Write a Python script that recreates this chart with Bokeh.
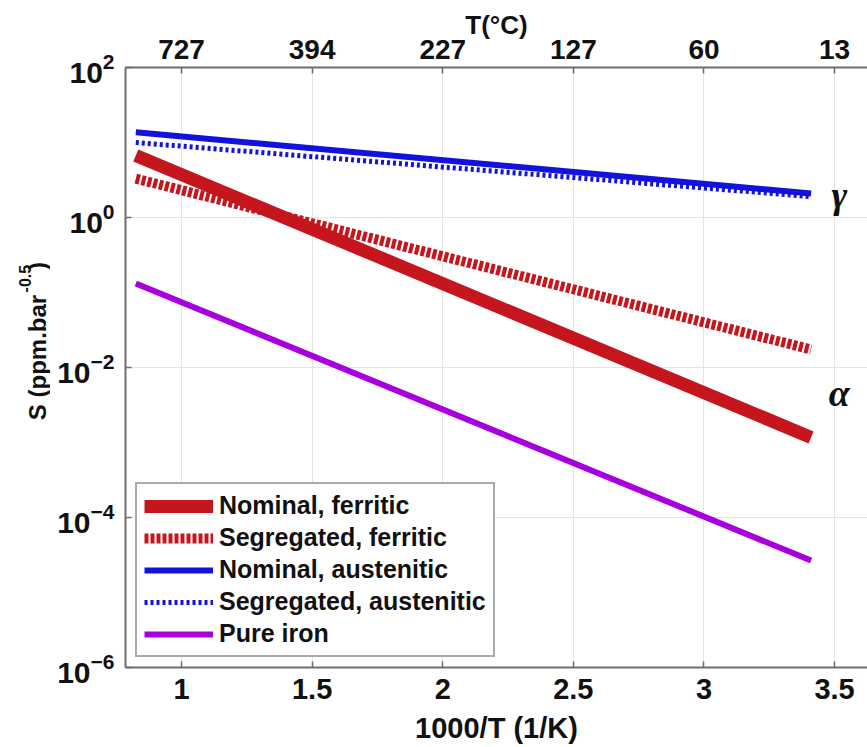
import math

from bokeh.core.properties import value
from bokeh.embed import file_html
from bokeh.layouts import row
from bokeh.models import FixedTicker, Label, Legend, LegendItem, LinearAxis, Range1d
from bokeh.plotting import figure
from bokeh.resources import INLINE

# Sievert solubility vs inverse temperature (end points of each Arrhenius line)
inv_t = [0.825, 3.41]                      # 1000/T (1/K)
nominal_ferritic = [6.7, 1.17e-3]
segregated_ferritic = [3.3, 1.74e-2]
nominal_austenitic = [13.7, 2.09]
segregated_austenitic = [10.0, 1.9]
pure_iron = [0.132, 2.67e-5]

series_names = [
    "Nominal, ferritic",
    "Segregated, ferritic",
    "Nominal, austenitic",
    "Segregated, austenitic",
    "Pure iron",
]

x_ticks = [1, 1.5, 2, 2.5, 3, 3.5]
t_celsius_labels = ["727", "394", "227", "127", "60", "13"]
y_ticks = [1e-6, 1e-4, 1e-2, 1, 1e2]

X_START, X_END = 0.7856, 3.626
Y_START, Y_END = 1e-6, 1e2

FONT = "Liberation Sans"
RED = "#c4161c"
BLUE = "#1212dc"
PURPLE = "#a800dc"
AXIS_GREY = "#6e6e6e"
GRID_GREY = "#e4e4e4"
INK = "#111111"

W, H = 867, 747
TITLE_W = 50                     # strip holding the vertical y-axis title
LEFT, TOP, BOTTOM = 125, 67, 80  # frame offsets within the whole page

p = figure(
    width=W - TITLE_W, height=H,
    y_axis_type="log",
    x_range=Range1d(X_START, X_END),
    y_range=Range1d(Y_START, Y_END),
    output_backend="svg",
    toolbar_location=None,
    min_border_left=LEFT - TITLE_W, min_border_right=0,
    min_border_top=TOP, min_border_bottom=BOTTOM,
    background_fill_color="white",
    border_fill_color="white",
)
p.outline_line_color = None

# grid
p.xgrid.grid_line_color = GRID_GREY
p.ygrid.grid_line_color = GRID_GREY
p.xgrid.grid_line_width = 1
p.ygrid.grid_line_width = 1


def style_axis(ax, size):
    ax.axis_line_color = AXIS_GREY
    ax.axis_line_width = 2
    ax.major_tick_in = 6
    ax.major_tick_out = 0
    ax.major_tick_line_color = AXIS_GREY
    ax.major_tick_line_width = 1.5
    ax.minor_tick_line_color = None
    ax.major_label_text_font = FONT
    ax.major_label_text_font_style = "bold"
    ax.major_label_text_font_size = size
    ax.major_label_text_color = INK


# bottom axis
xa = p.xaxis[0]
xa.ticker = FixedTicker(ticks=x_ticks)
style_axis(xa, "29px")
xa.major_label_standoff = 11
xa.axis_label = "1000/T (1/K)"
xa.axis_label_text_font = FONT
xa.axis_label_text_font_style = "bold"
xa.axis_label_text_font_size = "29px"
xa.axis_label_text_color = INK
xa.axis_label_standoff = 10

# left axis
ya = p.yaxis[0]
ya.ticker = FixedTicker(ticks=y_ticks)
style_axis(ya, "30px")
ya.major_label_standoff = 11

# top axis in degrees Celsius
top = LinearAxis(
    ticker=FixedTicker(ticks=x_ticks),
    major_label_overrides={float(k): v for k, v in zip(x_ticks, t_celsius_labels)},
    axis_label="T(°C)",
)
style_axis(top, "28px")
top.major_label_standoff = 9
top.axis_label_text_font = FONT
top.axis_label_text_font_style = "bold"
top.axis_label_text_font_size = "26px"
top.axis_label_text_color = INK
top.axis_label_standoff = -3
p.add_layout(top, "above")

# data lines
r_nf = p.line(inv_t, nominal_ferritic, line_color=RED, line_width=13)
r_sf = p.line(inv_t, segregated_ferritic, line_color=RED, line_width=10, line_dash="4 2")
r_na = p.line(inv_t, nominal_austenitic, line_color=BLUE, line_width=6)
r_sa = p.line(inv_t, segregated_austenitic, line_color=BLUE, line_width=5, line_dash="3 3")
r_pi = p.line(inv_t, pure_iron, line_color=PURPLE, line_width=6)

legend = Legend(
    items=[LegendItem(label=n, renderers=[r]) for n, r in
           zip(series_names, [r_nf, r_sf, r_na, r_sa, r_pi])],
    location="bottom_left",
    margin=10,
    padding=7,
    spacing=3,
    glyph_width=69,
    glyph_height=26,
    label_height=26,
    label_standoff=6,
    label_text_font=FONT,
    label_text_font_style="bold",
    label_text_font_size="25px",
    label_text_color=INK,
    border_line_color="#555555",
    border_line_width=2,
    background_fill_color="white",
    background_fill_alpha=1.0,
)
p.add_layout(legend)

# phase markers at the right end of each pair of lines
greek_x = inv_t[-1] + 0.108
greek_kw = dict(text_align="center", text_baseline="middle",
                text_font="Liberation Serif", text_font_style="bold italic",
                text_font_size="38px", text_color=INK)
p.add_layout(Label(
    x=greek_x, y=math.sqrt(nominal_austenitic[-1] * segregated_austenitic[-1]),
    text="γ", **greek_kw))
p.add_layout(Label(
    x=greek_x, y=math.sqrt(nominal_ferritic[-1] * segregated_ferritic[-1]),
    text="α", **greek_kw))

# narrow strip on the left carrying the rotated y-axis title "S (ppm.bar^-0.5)"
t = figure(
    width=TITLE_W, height=H,
    x_range=Range1d(0, TITLE_W), y_range=Range1d(H, 0),
    x_axis_location=None, y_axis_location=None,
    output_backend="svg", toolbar_location=None,
    min_border=0, min_border_left=0, min_border_right=0,
    min_border_top=0, min_border_bottom=0,
    outline_line_color=None,
    background_fill_color="white", border_fill_color="white",
)
t.xgrid.visible = False
t.ygrid.visible = False
title_kw = dict(angle=math.pi / 2, text_baseline="middle",
                text_font=value(FONT), text_font_style="bold", text_color=INK)
# main part is anchored at its upper end so the exponent always follows it
t.text(x=[37], y=[283], text=["S (ppm.bar"], text_align="right",
       text_font_size=value("24px"), **title_kw)
t.text(x=[24], y=[280], text=["-0.5"], text_align="left",
       text_font_size=value("16px"), **title_kw)
t.text(x=[37], y=[252], text=[")"], text_align="left",
       text_font_size=value("24px"), **title_kw)

page = row(t, p, spacing=0)
open("out.html", "w").write(file_html(page, INLINE))
